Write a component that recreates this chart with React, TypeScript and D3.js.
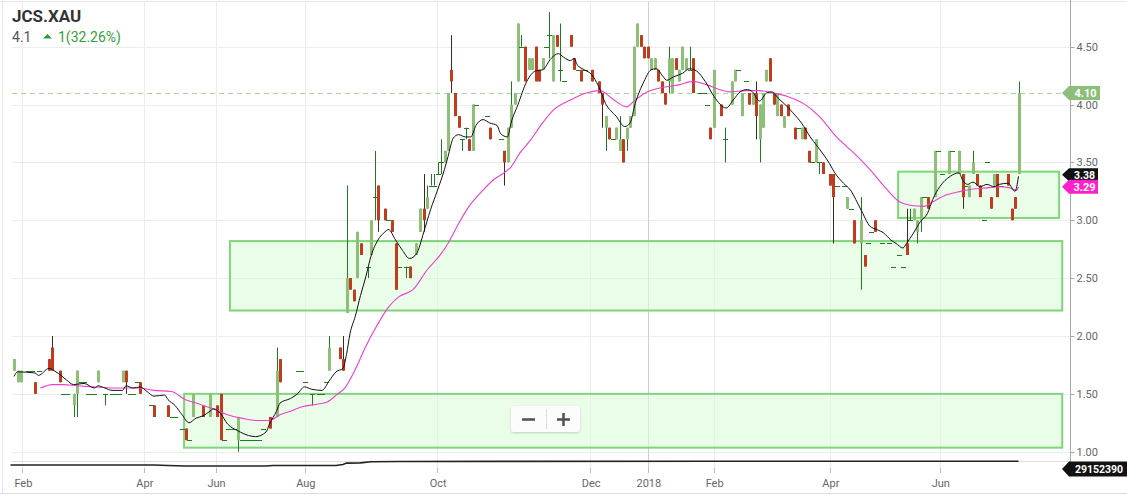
import React from 'react';
import * as d3 from 'd3';

const W = 1127;
const H = 496;

// [slot, open, high, low, close]
const candles: [number, number, number, number, number][] = [
  [0,1.7,1.8,1.7,1.8],[1,1.6,1.7,1.6,1.7],[2,1.6,1.7,1.6,1.7],[4,1.7,1.7,1.7,1.7],[5,1.7,1.7,1.7,1.7],
  [6,1.6,1.6,1.5,1.5],[7,1.7,1.7,1.7,1.7],[10,1.8,1.8,1.7,1.7],[11,1.9,2.0,1.7,1.7],[13,1.7,1.7,1.6,1.6],
  [14,1.5,1.5,1.5,1.5],[15,1.5,1.5,1.5,1.5],[17,1.4,1.5,1.3,1.5],[18,1.5,1.7,1.3,1.7],[19,1.6,1.6,1.6,1.6],
  [20,1.6,1.6,1.6,1.6],[21,1.5,1.5,1.5,1.5],[22,1.5,1.5,1.5,1.5],[23,1.5,1.5,1.5,1.5],[24,1.6,1.7,1.6,1.7],
  [26,1.5,1.5,1.4,1.5],[28,1.5,1.5,1.5,1.5],[29,1.5,1.5,1.5,1.5],[30,1.5,1.5,1.5,1.5],[31,1.6,1.7,1.6,1.7],
  [32,1.7,1.7,1.5,1.6],[33,1.5,1.5,1.5,1.5],[34,1.5,1.5,1.5,1.5],[35,1.6,1.6,1.6,1.6],[36,1.6,1.6,1.5,1.5],
  [39,1.4,1.4,1.4,1.4],[40,1.4,1.4,1.3,1.3],[44,1.4,1.4,1.3,1.3],[45,1.3,1.3,1.3,1.3],[46,1.3,1.3,1.3,1.3],
  [48,1.2,1.2,1.2,1.2],[49,1.2,1.2,1.1,1.1],[50,1.1,1.1,1.1,1.1],[51,1.3,1.5,1.3,1.5],[54,1.4,1.4,1.3,1.3],
  [56,1.3,1.5,1.3,1.5],[58,1.4,1.4,1.3,1.3],[59,1.5,1.5,1.1,1.1],[60,1.1,1.1,1.1,1.1],[61,1.2,1.2,1.2,1.2],
  [62,1.2,1.2,1.2,1.2],[63,1.2,1.2,1.2,1.2],[64,1.1,1.3,1.0,1.3],[65,1.1,1.1,1.1,1.1],[66,1.1,1.1,1.1,1.1],
  [67,1.1,1.1,1.1,1.1],[68,1.1,1.1,1.1,1.1],[69,1.1,1.1,1.1,1.1],[70,1.1,1.1,1.1,1.1],[71,1.2,1.2,1.2,1.2],
  [73,1.3,1.3,1.2,1.2],[75,1.3,1.9,1.3,1.7],[76,1.8,1.8,1.6,1.6],[81,1.7,1.7,1.7,1.7],[82,1.7,1.7,1.7,1.7],
  [83,1.6,1.6,1.6,1.6],[85,1.5,1.5,1.4,1.5],[87,1.5,1.5,1.5,1.5],[88,1.5,1.5,1.5,1.5],[89,1.6,1.6,1.6,1.6],
  [90,1.7,2.0,1.7,1.9],[93,1.9,1.9,1.8,1.8],[94,1.8,2.0,1.7,1.7],[95,2.2,3.3,2.2,2.5],[96,2.5,2.5,2.4,2.4],
  [97,2.4,2.4,2.3,2.3],[98,2.5,2.9,2.5,2.9],[99,2.8,2.8,2.7,2.7],[101,2.6,2.6,2.5,2.6],[102,2.7,3.0,2.7,3.0],
  [103,3.2,3.6,3.0,3.2],[104,3.3,3.3,2.9,3.0],[106,3.1,3.1,3.0,3.0],[107,3.0,3.0,3.0,3.0],[108,3.0,3.0,2.9,2.9],
  [109,2.8,2.8,2.4,2.4],[110,2.6,2.6,2.6,2.6],[112,2.6,2.6,2.5,2.6],[113,2.6,2.6,2.5,2.5],[115,2.7,2.8,2.7,2.8],
  [116,2.9,3.1,2.9,3.1],[117,3.1,3.4,2.9,3.0],[118,3.1,3.3,3.1,3.2],[119,3.3,3.4,3.3,3.3],[120,3.3,3.4,3.3,3.3],
  [121,3.4,3.5,3.4,3.4],[122,3.5,3.7,3.4,3.5],[123,3.5,3.6,3.5,3.6],[124,3.6,4.1,3.6,4.1],[125,4.3,4.6,4.1,4.2],
  [126,4.1,4.1,3.9,3.9],[127,3.9,3.9,3.8,3.8],[128,3.7,3.7,3.6,3.7],[129,3.8,3.8,3.7,3.8],[130,3.7,3.7,3.6,3.6],
  [131,3.6,4.0,3.6,4.0],[132,4.0,4.0,4.0,4.0],[135,3.9,3.9,3.9,3.9],[136,3.8,3.8,3.7,3.7],[139,3.7,3.7,3.7,3.7],
  [140,3.6,3.6,3.3,3.5],[141,3.5,3.8,3.5,3.8],[142,3.8,4.2,3.8,4.0],[143,4.0,4.1,4.0,4.1],[144,4.2,4.7,4.2,4.7],
  [145,4.5,4.6,4.5,4.5],[146,4.5,4.5,4.2,4.2],[147,4.3,4.4,4.3,4.4],[148,4.3,4.4,4.3,4.4],[149,4.5,4.5,4.2,4.2],
  [150,4.3,4.3,4.2,4.2],[151,4.3,4.4,4.3,4.4],[152,4.5,4.5,4.5,4.5],[153,4.6,4.8,4.4,4.6],[154,4.2,4.6,4.2,4.6],
  [155,4.6,4.6,4.5,4.5],[156,4.3,4.7,4.2,4.3],[157,4.2,4.2,4.2,4.2],[159,4.6,4.6,4.5,4.5],[160,4.4,4.4,4.3,4.3],
  [161,4.3,4.3,4.3,4.3],[162,4.3,4.3,4.2,4.2],[163,4.3,4.3,4.3,4.3],[165,4.3,4.3,4.2,4.2],[167,4.2,4.2,4.1,4.1],
  [168,4.1,4.1,3.8,4.0],[169,3.8,3.9,3.6,3.9],[170,3.8,3.8,3.7,3.7],[171,3.7,3.7,3.7,3.7],[172,3.7,3.8,3.7,3.8],
  [173,3.6,3.9,3.6,3.7],[174,3.7,3.7,3.5,3.5],[175,3.7,3.8,3.6,3.8],[176,3.8,3.9,3.8,3.9],[177,3.9,4.5,3.9,4.5],
  [178,4.5,4.7,4.5,4.7],[179,4.6,4.6,4.5,4.5],[180,4.5,4.5,4.4,4.4],[181,4.5,4.5,4.4,4.4],[182,4.3,4.4,4.3,4.4],
  [183,4.3,4.4,4.3,4.4],[184,4.3,4.3,4.2,4.2],[185,4.2,4.2,4.1,4.1],[186,4.1,4.1,4.0,4.0],[187,4.2,4.5,4.1,4.4],
  [188,4.1,4.4,4.1,4.4],[189,4.4,4.4,4.3,4.3],[190,4.2,4.3,4.2,4.3],[191,4.3,4.5,4.3,4.5],[192,4.3,4.4,4.3,4.4],
  [193,4.3,4.5,4.3,4.3],[194,4.4,4.4,4.1,4.1],[196,4.1,4.1,4.1,4.1],[197,4.1,4.1,4.1,4.1],[198,4.0,4.0,4.0,4.0],
  [199,3.8,3.8,3.7,3.7],[200,3.8,4.3,3.8,4.3],[202,4.0,4.0,3.9,3.9],[203,3.7,3.8,3.5,3.7],[205,4.0,4.2,4.0,4.2],
  [206,4.2,4.3,4.2,4.3],[207,4.3,4.3,4.3,4.3],[208,3.9,4.1,3.9,4.1],[209,4.2,4.2,4.2,4.2],[210,4.1,4.1,4.0,4.0],
  [211,4.0,4.1,4.0,4.1],[212,4.1,4.2,3.7,3.9],[213,3.7,4.0,3.5,4.0],[214,3.8,4.1,3.8,4.1],[215,4.2,4.3,4.2,4.3],
  [216,4.4,4.4,4.2,4.2],[217,4.1,4.1,4.0,4.0],[218,3.9,4.1,3.9,4.1],[219,4.0,4.0,3.9,3.9],[220,3.8,3.9,3.8,3.9],
  [221,4.0,4.0,3.9,3.9],[223,3.8,3.8,3.7,3.7],[224,3.8,3.8,3.8,3.8],[225,3.7,3.8,3.7,3.8],[226,3.8,3.8,3.7,3.7],
  [227,3.6,3.6,3.5,3.5],[228,3.5,3.5,3.5,3.5],[229,3.5,3.7,3.5,3.7],[230,3.5,3.5,3.4,3.5],[231,3.5,3.5,3.4,3.4],
  [233,3.4,3.4,3.3,3.3],[234,3.4,3.4,2.8,3.2],[235,3.3,3.3,3.3,3.3],[237,3.3,3.3,3.3,3.3],[238,3.1,3.2,3.1,3.2],
  [239,3.1,3.1,3.1,3.1],[240,3.0,3.0,2.8,2.8],[242,2.8,3.2,2.4,3.0],[243,2.7,2.7,2.6,2.6],[244,2.8,2.8,2.8,2.8],
  [245,2.9,2.9,2.9,2.9],[246,3.0,3.0,2.9,2.9],[248,2.8,2.8,2.8,2.8],[250,2.8,2.8,2.8,2.8],[251,2.6,2.6,2.6,2.6],
  [253,2.7,2.7,2.7,2.7],[254,2.6,2.6,2.6,2.6],[255,2.8,3.1,2.7,2.7],[256,3.0,3.1,3.0,3.0],[257,3.0,3.1,3.0,3.1],
  [258,2.9,3.0,2.8,3.0],[259,3.0,3.2,2.9,3.2],[260,3.2,3.2,3.2,3.2],[261,3.2,3.2,3.1,3.1],[263,3.2,3.6,3.2,3.6],
  [264,3.6,3.6,3.6,3.6],[265,3.4,3.4,3.4,3.4],[267,3.4,3.6,3.4,3.6],[268,3.6,3.6,3.6,3.6],[270,3.4,3.6,3.4,3.6],
  [271,3.4,3.4,3.1,3.2],[272,3.3,3.3,3.3,3.3],[273,3.2,3.3,3.2,3.3],[274,3.4,3.6,3.4,3.5],[275,3.4,3.4,3.3,3.3],
  [276,3.3,3.3,3.2,3.2],[277,3.0,3.0,3.0,3.0],[278,3.5,3.5,3.5,3.5],[279,3.2,3.2,3.1,3.1],[280,3.3,3.4,3.3,3.4],
  [281,3.4,3.4,3.2,3.2],[282,3.3,3.3,3.3,3.3],[284,3.4,3.4,3.3,3.3],[285,3.1,3.1,3.0,3.0],[286,3.2,3.2,3.1,3.1],
  [287,3.4,4.2,3.4,4.1],
];

// short moving average (black)
const maFast: [number, number][] = [
  [0,1.65],[1,1.69],[6,1.68],[7,1.66],[10,1.72],[12,1.69],[15,1.62],[17,1.58],[20,1.59],[23,1.55],[24,1.57],
  [26,1.55],[28,1.53],[31,1.53],[32,1.57],[34,1.55],[36,1.56],[38,1.52],[40,1.48],[43,1.49],[44,1.45],[46,1.40],
  [48,1.32],[50,1.25],[52,1.29],[54,1.31],[56,1.35],[57,1.37],[59,1.33],[61,1.24],[64,1.18],[67,1.14],[69,1.13],
  [72,1.17],[73,1.24],[75,1.35],[76,1.42],[79,1.46],[81,1.50],[83,1.56],[85,1.54],[88,1.53],[90,1.61],[92,1.69],
  [94,1.72],[95,1.84],[96,2.02],[97.5,2.17],[99,2.35],[100.5,2.51],[102,2.69],[104,2.83],[106,2.90],[107,2.92],
  [109,2.83],[111,2.74],[113,2.67],[115,2.71],[117,2.89],[119,3.09],[121,3.26],[123,3.44],[124,3.55],[125.5,3.71],
  [127,3.74],[129,3.72],[130.5,3.72],[132,3.82],[134,3.87],[136,3.84],[138,3.82],[139,3.75],[141,3.72],[142,3.84],
  [144,4.00],[146.5,4.20],[149,4.29],[151,4.30],[153.5,4.40],[155.5,4.44],[157,4.41],[159,4.38],[160,4.40],
  [161,4.34],[163,4.30],[165,4.26],[167,4.16],[169,4.01],[172,3.90],[174.5,3.81],[176,3.84],[177.5,4.01],
  [180,4.20],[182,4.30],[183.5,4.31],[185.5,4.24],[186.5,4.21],[188.5,4.24],[191,4.27],[193,4.31],[195,4.29],
  [197.5,4.20],[200,4.07],[203.5,3.97],[205.5,4.04],[207.5,4.11],[209.5,4.13],[211,4.11],[213,4.03],[215,4.10],
  [216.5,4.11],[218.5,4.05],[221,3.98],[222.5,3.93],[225,3.84],[227.5,3.72],[229.5,3.64],[231,3.58],[233,3.49],
  [234.5,3.41],[237,3.32],[239,3.26],[241,3.15],[242.5,3.06],[244.5,2.95],[246.5,2.92],[248.5,2.89],[250.5,2.83],
  [252,2.80],[254,2.76],[255,2.80],[257,2.89],[259,2.99],[261,3.06],[262.5,3.18],[264.5,3.29],[267.5,3.38],
  [270,3.41],[271,3.35],[272.5,3.31],[274,3.33],[276,3.29],[278,3.31],[280,3.29],[281.5,3.31],[284,3.32],
  [286,3.25],[287,3.38],
];

// long moving average (magenta)
const maSlow: [number, number][] = [
  [7.5,1.55],[11,1.58],[14,1.58],[18,1.57],[22.5,1.56],[28.5,1.55],[35.5,1.55],[40,1.53],[45,1.52],[49,1.45],
  [52,1.42],[57,1.37],[61,1.32],[65,1.29],[69,1.27],[73,1.27],[76,1.32],[79,1.35],[82.5,1.39],[86.5,1.41],
  [89.5,1.43],[92.5,1.50],[94.5,1.55],[97.5,1.71],[100.5,1.91],[103.5,2.08],[107,2.25],[110,2.34],[114,2.40],
  [118,2.57],[122,2.71],[124,2.80],[127,2.97],[130,3.12],[134,3.26],[137,3.35],[140,3.41],[142,3.46],[144.5,3.58],
  [147.5,3.69],[150.5,3.82],[154,3.95],[159,4.04],[163.5,4.10],[167.5,4.12],[171,4.05],[175,3.98],[177.5,4.04],
  [181,4.11],[185.5,4.15],[190,4.17],[194,4.20],[198,4.17],[201.5,4.13],[204.5,4.11],[209,4.12],[213,4.12],
  [217,4.10],[221,4.07],[225.5,4.01],[230,3.90],[235,3.72],[240,3.58],[244.5,3.44],[249,3.28],[253,3.16],
  [256,3.13],[260,3.12],[262.5,3.16],[266.5,3.22],[270.5,3.25],[274,3.27],[278,3.28],[281.5,3.29],[284.5,3.28],
  [286.5,3.26],[287,3.29],
];

// volume indicator line
const volume: [number, number][] = [
  [-1,1.3e7],[40,1.3e7],[44,1.1e7],[49,0.85e7],[72,0.85e7],[74,1.1e7],[92,1.1e7],[94,1.5e7],[95,2.1e7],
  [99,2.2e7],[102,2.7e7],[110,2.8e7],[140,2.85e7],[200,2.9e7],[287,2.915e7],
];

// support / resistance zones: [fromSlot, toSlot, low, high]
const zones: [number, number, number, number][] = [
  [48.6, 299.5, 1.035, 1.5],
  [61.7, 299.5, 2.22, 2.82],
  [252.6, 298.6, 3.02, 3.42],
];

const priceTicks = [1.0, 1.5, 2.0, 2.5, 3.0, 3.5, 4.0, 4.5];
const monthTicks: [string, number][] = [
  ['Feb', 2.4], ['Apr', 37.1], ['Jun', 57.6], ['Aug', 83.1], ['Oct', 120.9],
  ['Dec', 164.6], ['2018', 181.1], ['Feb', 199.9], ['Apr', 233.1], ['Jun', 264.5],
];

const lastPrice = 4.1;
const fastLast = 3.38;
const slowLast = 3.29;
const volLast = 29152390;

const UP = '#8ebf76';
const DOWN = '#c13b1f';
const WICK_UP = '#217a1f';
const WICK_DOWN = '#3a2a20';

function Tag({ x0, x1, y, fill, text, h = 14, fs = 11 }: { x0: number; x1: number; y: number; fill: string; text: string; h?: number; fs?: number }) {
  const half = h / 2;
  const d = `M${x0},${y} L${x0 + 7},${y - half} L${x1},${y - half} L${x1},${y + half} L${x0 + 7},${y + half} Z`;
  return (
    <g>
      <path d={d} fill={fill} />
      <text x={(x0 + 7 + x1) / 2 + 1} y={y + 4} textAnchor="middle" fontSize={fs} fontWeight={700} fill="#fff" fontFamily="Roboto, Arial, sans-serif">{text}</text>
    </g>
  );
}

export default function App() {
  const x = d3.scaleLinear().domain([0, 287]).range([14, 1018.5]);
  const y = d3.scaleLinear().domain([1, 4.5]).range([451.7, 46.7]);
  const yv = d3.scaleLinear().domain([0, 3e7]).range([468, 461]);

  const lineMA = d3.line<[number, number]>().x(d => x(d[0])).y(d => y(d[1])).curve(d3.curveMonotoneX);
  const lineVol = d3.line<[number, number]>().x(d => x(d[0])).y(d => yv(d[1]));

  const axisX = 1070.5;
  const font = 'Roboto, Arial, sans-serif';

  return (
    <div style={{ position: 'absolute', left: 0, top: 0 }}>
      <svg width={W} height={H} style={{ display: 'block', background: '#fff' }}>
        <defs>
          <filter id="sh" x="-20%" y="-20%" width="140%" height="160%">
            <feDropShadow dx="0" dy="1" stdDeviation="1.2" floodColor="#000" floodOpacity="0.18" />
          </filter>
        </defs>
        {/* frame */}
        <line x1={0} x2={W} y1={1.5} y2={1.5} stroke="#e6e6e6" />
        <line x1={2.5} x2={2.5} y1={0} y2={493} stroke="#e6e6e6" />
        <line x1={0} x2={W} y1={493.5} y2={493.5} stroke="#dcdcdc" />

        {/* horizontal gridlines */}
        {priceTicks.map(p => (
          <line key={'g' + p} x1={12} x2={axisX} y1={Math.round(y(p)) + 0.5} y2={Math.round(y(p)) + 0.5} stroke="#ececec" />
        ))}
        {/* vertical gridlines */}
        {monthTicks.map(([lab, s], i) => (
          <line key={'v' + i} x1={Math.round(x(s)) + 0.5} x2={Math.round(x(s)) + 0.5} y1={2} y2={472}
            stroke={lab === '2018' ? '#cfcfcf' : '#ececec'} />
        ))}

        {/* zones */}
        {zones.map(([a, b, lo, hi], i) => (
          <rect key={'z' + i} x={x(a)} y={y(hi)} width={x(b) - x(a)} height={y(lo) - y(hi)}
            fill="#dcfbd8" fillOpacity={0.6} stroke="#7fd67a" strokeWidth={2} />
        ))}

        {/* last price dashed line */}
        <line x1={12} x2={1062} y1={Math.round(y(lastPrice)) + 0.5} y2={Math.round(y(lastPrice)) + 0.5}
          stroke="#acd59e" strokeDasharray="5,4" />

        {/* candles */}
        {candles.map(([s, o, h, l, c], i) => {
          const cx = Math.round(x(s)) + 0.5;
          if (o === c) {
            return (
              <g key={'c' + i}>
                {h > l && <line x1={cx} x2={cx} y1={y(h)} y2={y(l)} stroke={WICK_UP} />}
                <line x1={cx - 2.5} x2={cx + 2.5} y1={Math.round(y(o)) + 0.5} y2={Math.round(y(o)) + 0.5} stroke={WICK_UP} />
              </g>
            );
          }
          const up = c > o;
          const top = y(Math.max(o, c));
          const bot = y(Math.min(o, c));
          return (
            <g key={'c' + i}>
              {h > l && <line x1={cx} x2={cx} y1={y(h)} y2={y(l)} stroke={up ? WICK_UP : WICK_DOWN} />}
              <rect x={cx - 1.5} y={top} width={3} height={bot - top} fill={up ? UP : DOWN} />
            </g>
          );
        })}

        {/* moving averages */}
        <path d={lineMA(maSlow) || ''} fill="none" stroke="#ee3fcf" strokeWidth={1.1} />
        <path d={lineMA(maFast) || ''} fill="none" stroke="#111" strokeWidth={1} />

        {/* volume pane */}
        <line x1={12} x2={axisX} y1={461.5} y2={461.5} stroke="#dedede" />
        <path d={lineVol(volume) || ''} fill="none" stroke="#222" strokeWidth={1.6} />

        {/* right axis */}
        <line x1={axisX} x2={axisX} y1={0} y2={462} stroke="#a8a8a8" />
        {priceTicks.map(p => (
          <g key={'t' + p}>
            <line x1={axisX} x2={axisX + 4} y1={Math.round(y(p)) + 0.5} y2={Math.round(y(p)) + 0.5} stroke="#a8a8a8" />
            <text x={axisX + 6} y={y(p) + 4} fontSize={11} fill="#666" fontFamily={font}>{p.toFixed(2)}</text>
          </g>
        ))}

        {/* x axis */}
        {monthTicks.map(([lab, s], i) => (
          <g key={'m' + i}>
            <line x1={Math.round(x(s)) + 0.5} x2={Math.round(x(s)) + 0.5} y1={468} y2={473} stroke="#bbb" />
            <text x={x(s) + 1} y={487} textAnchor="middle" fontSize={11} fill="#666" fontFamily={font}>{lab}</text>
          </g>
        ))}

        {/* value tags */}
        <Tag x0={1062} x1={1100} y={y(lastPrice)} fill="#8cc07a" text={lastPrice.toFixed(2)} />
        <Tag x0={1062} x1={1098} y={y(fastLast) - 1.5} fill="#111" text={fastLast.toFixed(2)} h={13} fs={10.5} />
        <Tag x0={1062} x1={1098} y={y(slowLast)} fill="#ff1fcb" text={slowLast.toFixed(2)} h={14} fs={11} />
        <Tag x0={1062} x1={1127} y={469} fill="#111" text={String(volLast)} h={15} fs={10.5} />

        {/* header */}
        <text x={12} y={22} fontSize={17} fontWeight={700} fill="#333" fontFamily={font}>JCS.XAU</text>
        <text x={12} y={42} fontSize={14} fill="#555" fontFamily={font}>4.1</text>
        <path d="M43,38.5 L47.5,34 L52,38.5 Z" fill="#2f9e35" />
        <text x={58} y={42} fontSize={14} fill="#36a13c" fontFamily={font}>1(32.26%)</text>

        {/* zoom control */}
        <g filter="url(#sh)">
          <rect x={511} y={406} width={69} height={26} rx={3} fill="#fcfcfc" />
        </g>
        <line x1={546.5} x2={546.5} y1={409} y2={429} stroke="#dddddd" />
        <line x1={522} x2={535} y1={419.5} y2={419.5} stroke="#555" strokeWidth={2.6} />
        <line x1={557} x2={570} y1={419.5} y2={419.5} stroke="#555" strokeWidth={2.6} />
        <line x1={563.5} x2={563.5} y1={413} y2={426} stroke="#555" strokeWidth={2.6} />
      </svg>
    </div>
  );
}
